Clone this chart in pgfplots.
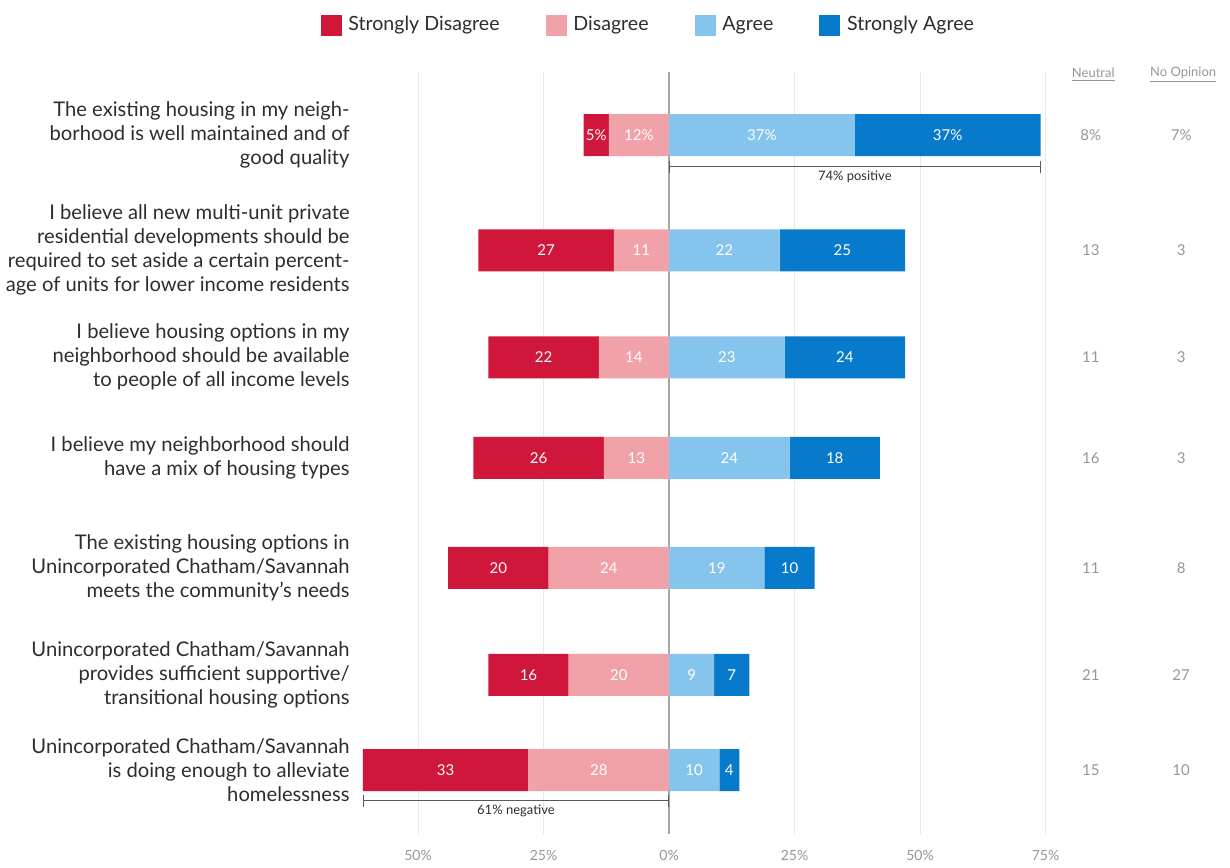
\documentclass[border=0pt]{standalone}
\usepackage{fontspec}
\setmainfont{Lato}
\usepackage{pgfplots}
\usepackage{pgfplotstable}
\pgfplotsset{compat=1.18}

\definecolor{sdcol}{RGB}{208,22,58}
\definecolor{dcol}{RGB}{240,162,168}
\definecolor{acol}{RGB}{133,196,236}
\definecolor{sacol}{RGB}{8,122,204}
\definecolor{txt}{RGB}{45,45,45}
\definecolor{lite}{RGB}{150,150,150}

% pos = vertical place of the statement; negative answers stored as negative numbers
\pgfplotstableread{
pos   sd   d    a   sa  neu  noop
0     -5  -12   37  37   8    7
1.09 -27  -11   22  25  13    3
2.10 -22  -14   23  24  11    3
3.05 -26  -13   24  18  16    3
4.09 -20  -24   19  10  11    8
5.10 -16  -20    9   7  21   27
6    -33  -28   10   4  15   10
}\likert

\pgfplotsset{
  /pgf/number format/assume math mode=true,
  % value label, first statement gets a percent sign
  lbl/.style={
    visualization depends on={\thisrow{pos} \as \rowv},
    nodes near coords={\pgfmathprintnumber[fixed,precision=0]{\pgfplotspointmeta}\ifdim\rowv pt<0.5pt\%\fi},
    nodes near coords style={anchor=center, text=#1, inner sep=0pt,
      font=\fontsize{7.5}{9}\selectfont},
  },
  base/.style={
    scale only axis, width=343.9pt, height=381pt,
    at={(181.4pt,-35.75pt)}, anchor=north west,
    xmin=-61, xmax=76, ymin=-0.6, ymax=6.6, y dir=reverse,
    clip=false,
  },
}

\begin{document}
\begin{tikzpicture}
\path[use as bounding box] (0pt,0pt) rectangle (615pt,-433.5pt);

% disagree side, axis decorations, legend
\begin{axis}[
  base, xbar stacked, bar width=21pt,
  axis line style={draw=none},
  tick style={draw=none},
  xtick={-50,-25,0,25,50,75},
  xticklabels={50\%,25\%,0\%,25\%,50\%,75\%},
  xticklabel style={font=\fontsize{7}{8}\selectfont, text=lite, yshift=-5pt},
  xmajorgrids, grid style={gray!18},
  extra x ticks={0}, extra x tick labels={},
  extra x tick style={grid style={gray!70, line width=0.7pt}},
  ytick={0,1.09,2.10,3.05,4.09,5.10,6},
  yticklabels={
    {The existing housing in my neigh-\\borhood is well maintained and of\\good quality},
    {I believe all new multi-unit private\\residential developments should be\\required to set aside a certain percent-\\age of units for lower income residents},
    {I believe housing options in my\\neighborhood should be available\\to people of all income levels},
    {I believe my neighborhood should\\have a mix of housing types},
    {The existing housing options in\\Unincorporated Chatham/Savannah\\meets the community's needs},
    {Unincorporated Chatham/Savannah\\provides sufficient supportive/\\transitional housing options},
    {Unincorporated Chatham/Savannah\\is doing enough to alleviate\\homelessness}},
  yticklabel style={align=right, inner sep=0pt, xshift=-6.4pt, text=txt,
    font=\fontsize{10.1}{12}\selectfont},
  legend style={at={(0.4165,1.061)}, anchor=center, draw=none, fill=none,
    legend columns=4, font=\fontsize{9.8}{11}\selectfont, text=txt,
    /tikz/every even column/.append style={column sep=21pt},
    /tikz/every odd column/.append style={column sep=1.5pt},
    legend cell align=left},
]
\addlegendimage{legend image code/.code={\fill[sdcol] (0pt,-5pt) rectangle (10pt,5pt);}}
\addlegendimage{legend image code/.code={\fill[dcol] (0pt,-5pt) rectangle (10pt,5pt);}}
\addlegendimage{legend image code/.code={\fill[acol] (0pt,-5pt) rectangle (10pt,5pt);}}
\addlegendimage{legend image code/.code={\fill[sacol] (0pt,-5pt) rectangle (10pt,5pt);}}
\legend{Strongly Disagree, Disagree, Agree, Strongly Agree}

\addplot[fill=dcol, draw=none, lbl=white, point meta={abs(\thisrow{d})}] table[x=d, y=pos] \likert;
\addplot[fill=sdcol, draw=none, lbl=white, point meta={abs(\thisrow{sd})}] table[x=sd, y=pos] \likert;

\addplot[sharp plot, stack plots=false, |-|, draw=gray!70!black, line width=0.5pt]
  coordinates {(-61,6.29) (0,6.29)}
  node[pos=0.5, below, inner sep=2pt, text=txt, font=\fontsize{6.5}{8}\selectfont] {61\% negative};

\node[text=lite, font=\fontsize{6.5}{8}\selectfont] at (axis cs:84.5,-0.57) {\underline{Neutral}};
\node[text=lite, font=\fontsize{6.5}{8}\selectfont] at (axis cs:102.4,-0.57) {\underline{No Opinion}};
\end{axis}

% agree side
\begin{axis}[base, xbar stacked, bar width=21pt, hide axis]
\addplot[fill=acol, draw=none, lbl=white, point meta={\thisrow{a}}] table[x=a, y=pos] \likert;
\addplot[fill=sacol, draw=none, lbl=white, point meta={\thisrow{sa}}] table[x=sa, y=pos] \likert;

\addplot[sharp plot, stack plots=false, |-|, draw=gray!70!black, line width=0.5pt]
  coordinates {(0,0.30) (74,0.30)}
  node[pos=0.5, below, inner sep=2pt, text=txt, font=\fontsize{6.5}{8}\selectfont] {74\% positive};
\end{axis}

% neutral and no opinion columns
\begin{axis}[base, hide axis]
\addplot[only marks, mark=none, lbl=lite, point meta={\thisrow{neu}}] table[x expr=84, y=pos] \likert;
\addplot[only marks, mark=none, lbl=lite, point meta={\thisrow{noop}}] table[x expr=102, y=pos] \likert;
\end{axis}
\end{tikzpicture}
\end{document}
